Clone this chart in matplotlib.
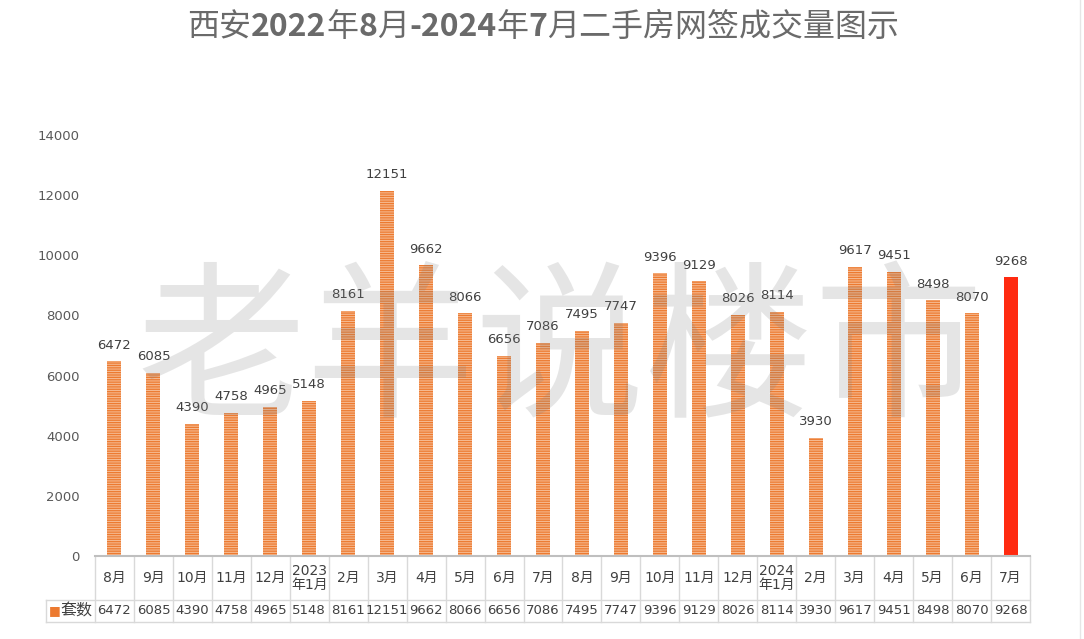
import matplotlib
matplotlib.use("Agg")
import matplotlib.pyplot as plt
from matplotlib.lines import Line2D

plt.rcParams['font.family'] = ['DejaVu Sans', 'Noto Sans CJK SC']
plt.rcParams['hatch.linewidth'] = 0.9

months = ['8月', '9月', '10月', '11月', '12月', '2023\n年1月', '2月', '3月', '4月', '5月', '6月', '7月',
          '8月', '9月', '10月', '11月', '12月', '2024\n年1月', '2月', '3月', '4月', '5月', '6月', '7月']
values = [6472, 6085, 4390, 4758, 4965, 5148, 8161, 12151, 9662, 8066, 6656, 7086,
          7495, 7747, 9396, 9129, 8026, 8114, 3930, 9617, 9451, 8498, 8070, 9268]
series_name = '套数'
yticks = [0, 2000, 4000, 6000, 8000, 10000, 12000, 14000]
title_parts = [('西安', False), ('2022', True), ('年', False), ('8', True), ('月', False),
               ('-2024', True), ('年', False), ('7', True), ('月二手房网签成交量图示', False)]
watermark = '老羊说楼市'

W, H = 1084, 639
fig = plt.figure(figsize=(W / 100, H / 100), dpi=100)
ax = fig.add_axes([95 / W, 83 / H, 935 / W, 421 / H])

n = len(values)
x = list(range(n))
orange_face = '#F6B98F'
orange_line = '#EC7A30'
red = '#FF2A10'

ax.bar(x[:-1], values[:-1], width=0.36, color=orange_face, edgecolor=orange_line,
       linewidth=0, hatch='-' * 7, zorder=2)
ax.bar(x[-1:], values[-1:], width=0.36, color=red, linewidth=0, zorder=2)

for xi, v in zip(x, values):
    ax.annotate(str(v), (xi, v), xytext=(0, 7), textcoords='offset points',
                ha='center', va='bottom', fontsize=9.5, color='#404040')

ax.set_xlim(-0.5, n - 0.5)
ax.set_ylim(0, 14000)
ax.set_yticks(yticks)
ax.set_yticklabels([str(t) for t in yticks])
ax.tick_params(axis='y', length=0, pad=11, labelsize=9.5, labelcolor='#595959')
ax.tick_params(axis='x', length=0, labelbottom=False)
for s in ['left', 'right', 'top']:
    ax.spines[s].set_visible(False)
ax.spines['bottom'].set_color('#bfbfbf')
ax.spines['bottom'].set_linewidth(1.5)

# data table below the axis
trans = ax.get_xaxis_transform()
row1 = -(600 - 556) / 421
row2 = -(622 - 556) / 421
legend_left = -0.5 + (46 - 95) / (935 / n)
gc = '#d9d9d9'
for k in range(n + 1):
    ax.add_line(Line2D([k - 0.5, k - 0.5], [0, row2], transform=trans, color=gc, lw=1, clip_on=False))
ax.add_line(Line2D([legend_left, n - 0.5], [row1, row1], transform=trans, color=gc, lw=1, clip_on=False))
ax.add_line(Line2D([legend_left, n - 0.5], [row2, row2], transform=trans, color=gc, lw=1, clip_on=False))
ax.add_line(Line2D([legend_left, legend_left], [row1, row2], transform=trans, color=gc, lw=1, clip_on=False))

for xi, m, v in zip(x, months, values):
    ax.text(xi, row1 / 2, m, transform=trans, ha='center', va='center', fontsize=10,
            color='#404040', linespacing=1.05, clip_on=False)
    ax.text(xi, (row1 + row2) / 2, str(v), transform=trans, ha='center', va='center',
            fontsize=9.5, color='#404040', clip_on=False)

ax.text(legend_left + 0.07, (row1 + row2) / 2, '■', transform=trans, ha='left', va='center',
        fontsize=9, color=orange_line, clip_on=False)
ax.text(-0.56, (row1 + row2) / 2, series_name, transform=trans, ha='right', va='center',
        fontsize=11.5, color='#404040', family=['Noto Sans CJK SC'], clip_on=False)

# title built from pieces (bold digits, regular Chinese)
prev = None
for txt, bold in title_parts:
    kw = dict(fontsize=23, color='#6a6a6a', family=['Noto Sans CJK SC'],
              fontweight='bold' if bold else 'normal')
    if prev is None:
        prev = fig.text(187 / W, 1 - 27 / H, txt, ha='left', va='center', **kw)
    else:
        prev = ax.annotate(txt, xy=(1, 0), xycoords=prev, ha='left', va='bottom',
                           annotation_clip=False, **kw)

# watermark
fig.text(560 / W, 1 - 356 / H, watermark, fontsize=122, color='#808080', alpha=0.2,
         ha='center', va='center', family=['Noto Sans CJK SC'], zorder=10)

# faint right border
fig.add_artist(Line2D([1080 / W, 1080 / W], [0, 1], transform=fig.transFigure, color='#e6e6e6', lw=1))

fig.savefig('out.png', dpi=100)
